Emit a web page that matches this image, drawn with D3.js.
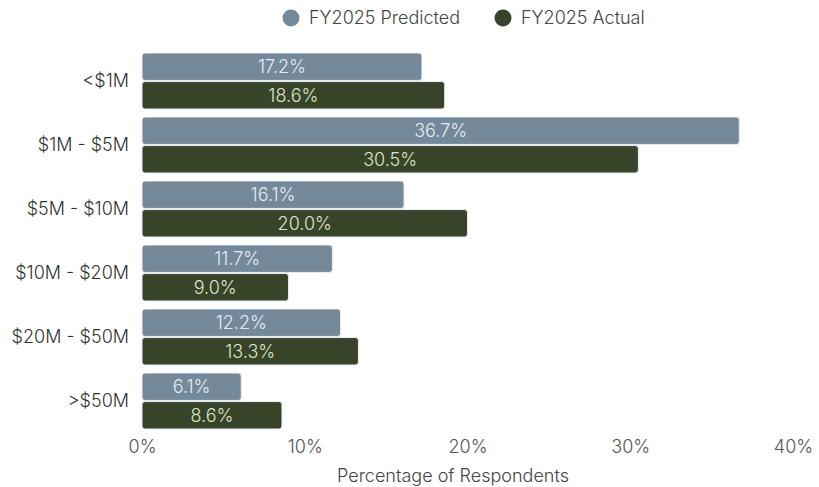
<!DOCTYPE html>
<html>
<head>
<meta charset="utf-8">
<script src="https://cdn.jsdelivr.net/npm/d3@7"></script>
<style>
  html, body { margin: 0; padding: 0; background: #ffffff; }
  svg { display: block; font-family: Inter, "Noto Sans", sans-serif; font-weight: 300; }
</style>
</head>
<body>
<svg id="chart" width="819" height="487"></svg>
<script>
// Revenue bands and share of respondents (%)
const categories = ["<$1M", "$1M - $5M", "$5M - $10M", "$10M - $20M", "$20M - $50M", ">$50M"];
const predicted = [17.2, 36.7, 16.1, 11.7, 12.2, 6.1];
const actual = [18.6, 30.5, 20.0, 9.0, 13.3, 8.6];
const seriesNames = ["FY2025 Predicted", "FY2025 Actual"];
const xTicks = [0, 10, 20, 30, 40];

const colors = { "FY2025 Predicted": "#748a9a", "FY2025 Actual": "#37442a" };
const labelColors = { "FY2025 Predicted": "#e4ecf2", "FY2025 Actual": "#dfe3c8" };

const svg = d3.select("#chart");
const margin = { left: 142, right: 26, top: 49, bottom: 54 };
const W = 819, H = 487;
const fontSize = 18;

const x = d3.scaleLinear().domain([0, 40]).range([margin.left, W - margin.right]);
const y = d3.scaleBand().domain(categories).range([margin.top, H - margin.bottom]).paddingInner(0.125).paddingOuter(0.0625);
const ySub = d3.scaleBand().domain(seriesNames).range([0, y.bandwidth()]).paddingInner(0.04);

const rows = categories.map((c, i) => ({
  category: c,
  values: [
    { series: seriesNames[0], value: predicted[i] },
    { series: seriesNames[1], value: actual[i] }
  ]
}));

const groups = svg.append("g").selectAll("g")
  .data(rows).join("g")
  .attr("transform", d => `translate(0,${y(d.category)})`);

groups.selectAll("rect")
  .data(d => d.values).join("rect")
  .attr("x", x(0))
  .attr("y", d => ySub(d.series))
  .attr("width", d => x(d.value) - x(0))
  .attr("height", ySub.bandwidth())
  .attr("rx", 3).attr("ry", 3)
  .attr("fill", d => colors[d.series])
  .attr("stroke", "#e8ecef")
  .attr("stroke-width", 1);

groups.selectAll("text")
  .data(d => d.values).join("text")
  .attr("x", d => (x(d.value) + x(0)) / 2)
  .attr("y", d => ySub(d.series) + ySub.bandwidth() / 2)
  .attr("dy", "0.36em")
  .attr("text-anchor", "middle")
  .attr("font-size", fontSize)
  .attr("fill", d => labelColors[d.series])
  .text(d => d.value.toFixed(1) + "%");

// Category axis
const yAxis = svg.append("g")
  .attr("transform", `translate(${margin.left},0)`)
  .call(d3.axisLeft(y).tickSize(0).tickPadding(13));
yAxis.select(".domain").remove();
yAxis.selectAll("text").attr("font-size", fontSize).attr("fill", "#333")
  .attr("font-family", "Inter, sans-serif").attr("font-weight", 300);

// Value axis
const xAxis = svg.append("g")
  .attr("transform", `translate(0,${H - margin.bottom})`)
  .call(d3.axisBottom(x).tickValues(xTicks).tickFormat(d => d + "%").tickSize(0).tickPadding(7));
xAxis.select(".domain").remove();
xAxis.selectAll("text").attr("font-size", fontSize).attr("fill", "#555")
  .attr("font-family", "Inter, sans-serif").attr("font-weight", 300);

svg.append("text")
  .attr("x", 453)
  .attr("y", 482)
  .attr("text-anchor", "middle")
  .attr("font-size", fontSize)
  .attr("fill", "#444")
  .text("Percentage of Respondents");

// Legend
const legendX = [291, 503];
const legend = svg.append("g").selectAll("g")
  .data(seriesNames).join("g")
  .attr("transform", (d, i) => `translate(${legendX[i]},18)`);
legend.append("circle").attr("r", 8.5).attr("fill", d => colors[d]);
legend.append("text")
  .attr("x", 18).attr("dy", "0.36em")
  .attr("font-size", fontSize).attr("fill", "#444")
  .text(d => d);
</script>
</body>
</html>
